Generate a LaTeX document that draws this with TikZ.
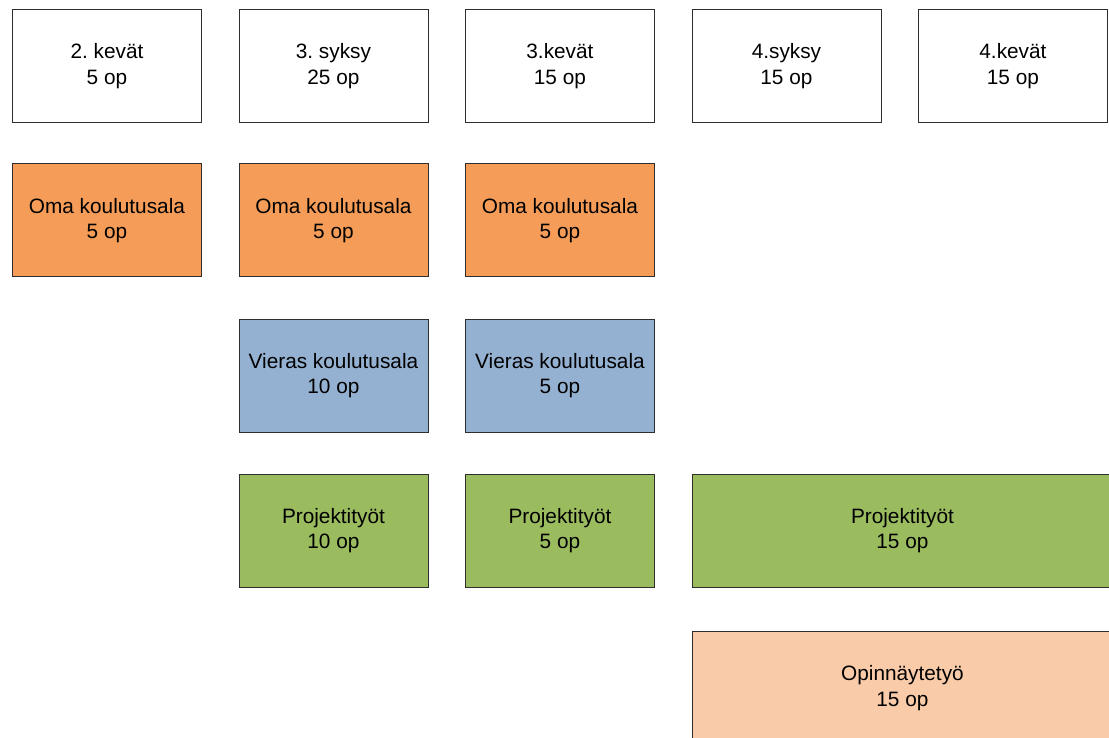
\documentclass[tikz,border=0pt]{standalone}
\usepackage{fontspec}
\setmainfont{Liberation Sans}
\frenchspacing
\definecolor{cOrange}{HTML}{F59D58}
\definecolor{cBlue}{HTML}{95B1D1}
\definecolor{cGreen}{HTML}{9BBB5F}
\definecolor{cPeach}{HTML}{F9CBA8}
\definecolor{cLine}{HTML}{2E2E2E}
\tikzset{
  box/.style={draw=cLine, line width=0.9pt, rectangle, anchor=north west, inner sep=0pt,
    minimum width=189pt, minimum height=113pt, align=center,
    font=\fontsize{20.8}{25.5}\selectfont},
  wbox/.style={box, fill=white},
  obox/.style={box, fill=cOrange},
  bbox/.style={box, fill=cBlue},
  gbox/.style={box, fill=cGreen},
  pbox/.style={box, fill=cPeach},
}
\begin{document}
\begin{tikzpicture}[x=1pt,y=-1pt]
\useasboundingbox (0,0) rectangle (1109,738);
\clip (0,0) rectangle (1109,738);
% header row
\node[wbox] (h1) at (12,9) {2. kevät\\5 op};
\node[wbox] (h2) at (238.5,9) {3. syksy\\25 op};
\node[wbox] (h3) at (465,9) {3.kevät\\15 op};
\node[wbox] (h4) at (691.5,9) {4.syksy\\15 op};
\node[wbox] (h5) at (918,9) {4.kevät\\15 op};
% oma koulutusala
\node[obox] (o1) at (12,163.5) {Oma koulutusala\\5 op};
\node[obox] (o2) at (238.5,163.5) {Oma koulutusala\\5 op};
\node[obox] (o3) at (465,163.5) {Oma koulutusala\\5 op};
% vieras koulutusala
\node[bbox] (v2) at (238.5,318.5) {Vieras koulutusala\\10 op};
\node[bbox] (v3) at (465,318.5) {Vieras koulutusala\\5 op};
% projektityöt
\node[gbox] (p2) at (238.5,473.5) {Projektityöt\\10 op};
\node[gbox] (p3) at (465,473.5) {Projektityöt\\5 op};
\node[gbox, minimum width=421pt] (p4) at (691.5,473.5) {Projektityöt\\15 op};
% opinnäytetyö
\node[pbox, minimum width=421pt] (t4) at (691.5,631) {Opinnäytetyö\\15 op};
\end{tikzpicture}
\end{document}
